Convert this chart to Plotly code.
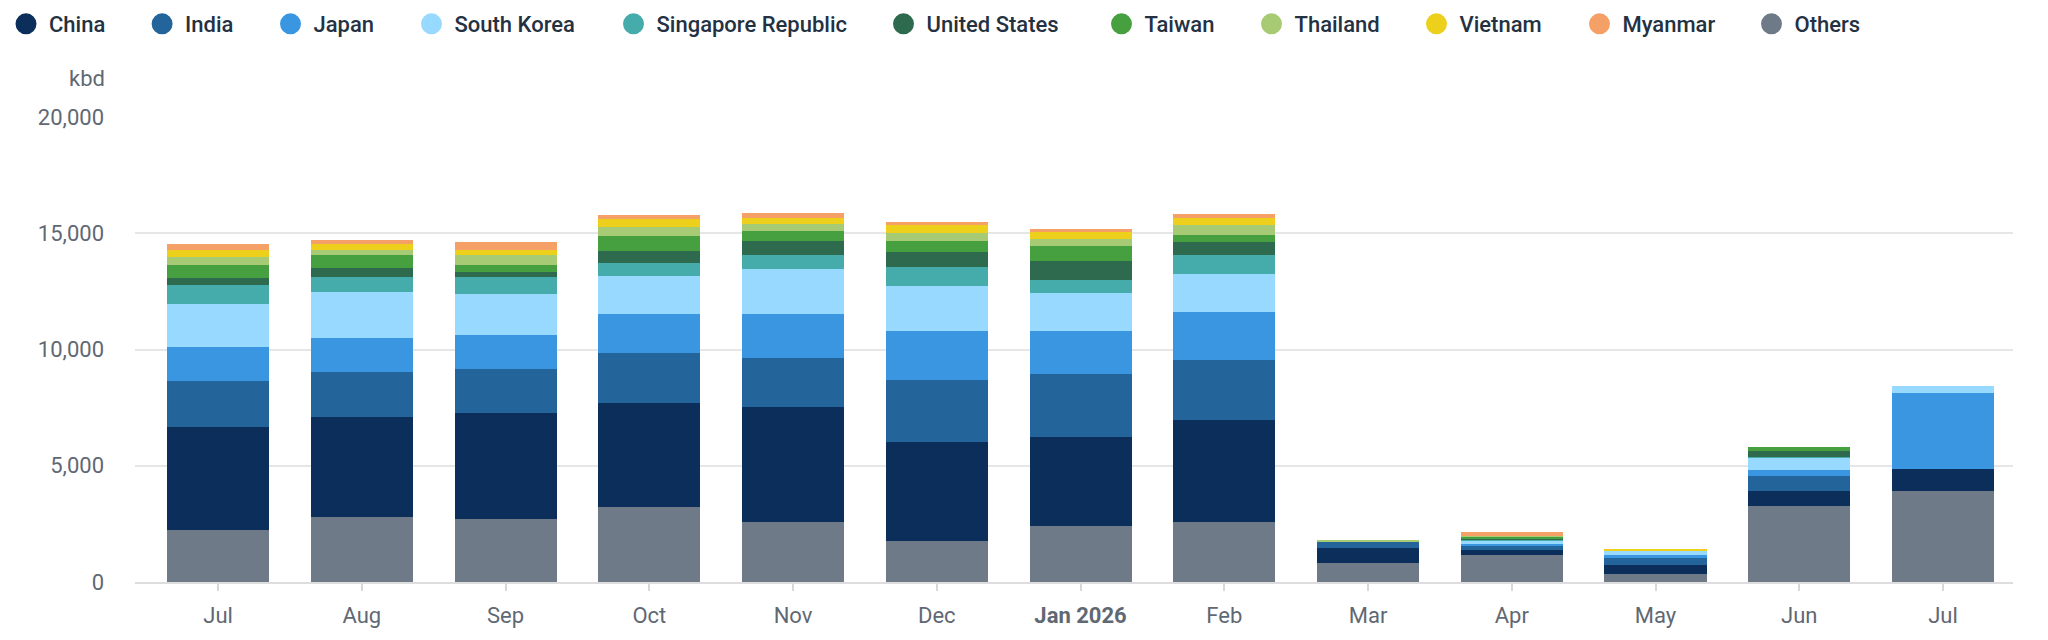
import plotly.graph_objects as go

# ---------------- data (kbd) ----------------
months = ["Jul 2025", "Aug 2025", "Sep 2025", "Oct 2025", "Nov 2025", "Dec 2025",
          "Jan 2026", "Feb 2026", "Mar 2026", "Apr 2026", "May 2026", "Jun 2026", "Jul 2026"]
tick_labels = ["Jul", "Aug", "Sep", "Oct", "Nov", "Dec", "<b>Jan 2026</b>",
               "Feb", "Mar", "Apr", "May", "Jun", "Jul"]

others    = [2226, 2783, 2711, 3211, 2595, 1783, 2424, 2595, 827, 1169, 357, 3263, 3919]
china     = [4452, 4309, 4538, 4509, 4934, 4235, 3822, 4392, 656, 214, 385, 656, 955]
india     = [1970, 1941, 1927, 2112, 2111, 2666, 2681, 2581, 242, 186, 328, 655, 0]
japan     = [1441, 1470, 1469, 1712, 1896, 2111, 1854, 2040, 30, 71, 71, 228, 3263]
s_korea   = [1869, 1955, 1727, 1627, 1925, 1953, 1639, 1625, 0, 143, 185, 542, 313]
singapore = [828, 642, 728, 571, 585, 813, 571, 813, 0, 42, 0, 43, 0]
us        = [285, 399, 242, 485, 628, 642, 813, 571, 0, 43, 0, 228, 0]
taiwan    = [585, 557, 314, 642, 413, 456, 641, 313, 0, 71, 0, 171, 0]
thailand  = [329, 243, 400, 400, 328, 357, 328, 414, 45, 57, 0, 0, 0]
vietnam   = [314, 256, 243, 328, 242, 328, 271, 313, 0, 0, 86, 0, 0]
myanmar   = [242, 143, 342, 180, 228, 142, 129, 172, 0, 143, 0, 0, 0]

legend_names = ["China", "India", "Japan", "South Korea", "Singapore Republic",
                "United States", "Taiwan", "Thailand", "Vietnam", "Myanmar", "Others"]

# ---------------- styling ----------------
colors = {
    "China": "#0b2f5a",
    "India": "#23649b",
    "Japan": "#3a96e1",
    "South Korea": "#97d9ff",
    "Singapore Republic": "#45abab",
    "United States": "#2e6a4d",
    "Taiwan": "#47a03f",
    "Thailand": "#a7cb74",
    "Vietnam": "#ecd01b",
    "Myanmar": "#f4a066",
    "Others": "#6e7a88",
}
series = {
    "Others": others, "China": china, "India": india, "Japan": japan,
    "South Korea": s_korea, "Singapore Republic": singapore, "United States": us,
    "Taiwan": taiwan, "Thailand": thailand, "Vietnam": vietnam, "Myanmar": myanmar,
}
stack_order = ["Others", "China", "India", "Japan", "South Korea", "Singapore Republic",
               "United States", "Taiwan", "Thailand", "Vietnam", "Myanmar"]
legend_centers = [24.5, 160.6, 289, 430, 632, 902, 1120, 1270, 1435, 1598, 1770]

W, H = 2048, 640
FONT = "Roboto, Arial, sans-serif"
GREY = "#5f6873"

fig = go.Figure()
for name in stack_order:
    fig.add_trace(go.Bar(
        x=months, y=series[name], name=name,
        marker=dict(color=colors[name], line=dict(width=0)),
        showlegend=False, legendgroup=name,
    ))

legend_layout = {}
for i, name in enumerate(legend_names):
    key = "legend" if i == 0 else f"legend{i + 1}"
    fig.add_trace(go.Scatter(
        x=[None], y=[None], mode="markers", name=name, legendgroup=name,
        legend=key, hoverinfo="skip",
        marker=dict(symbol="circle", size=16, color=colors[name],
                    line=dict(color=colors[name], width=5)),
    ))
    legend_layout[key] = dict(
        x=(legend_centers[i] - 21.5) / W, xref="container", xanchor="left",
        y=1 - 24 / H, yref="container", yanchor="middle",
        orientation="h", bgcolor="rgba(0,0,0,0)", borderwidth=0, itemwidth=36,
        font=dict(family=FONT, size=22, color="#243142", weight=500),
    )

ML, MR, MT, MB = 135, 35, 117, 54
fig.update_layout(
    width=W, height=H,
    margin=dict(l=ML, r=MR, t=MT, b=MB, pad=0),
    paper_bgcolor="white", plot_bgcolor="white",
    barmode="stack", bargap=0.29,
    font=dict(family=FONT, size=22, color=GREY),
    **legend_layout,
)
fig.update_xaxes(
    type="category", categoryorder="array", categoryarray=months,
    tickmode="array", tickvals=months, ticktext=tick_labels,
    range=[-0.578, 12.487],
    showgrid=False, showline=True, linecolor="#dddddd", linewidth=2,
    ticks="outside", ticklen=7, tickwidth=1.5, tickcolor="#d8d8d8",
    ticklabelstandoff=6,
    tickfont=dict(family=FONT, size=22, color=GREY),
)
fig.update_yaxes(
    range=[0, 20000], tickvals=[0, 5000, 10000, 15000, 20000], tickformat=",",
    showgrid=True, gridcolor="#e6e6e6", gridwidth=1.5, zeroline=False,
    showline=False, ticks="", ticklabelstandoff=30,
    tickfont=dict(family=FONT, size=22, color=GREY),
)
fig.add_annotation(
    text="kbd", xref="paper", yref="paper",
    x=(107 - ML) / (W - ML - MR), y=(H - MB - 78) / (H - MT - MB),
    xanchor="right", yanchor="middle", showarrow=False,
    font=dict(family=FONT, size=22, color=GREY),
)

fig.write_html("out.html")
